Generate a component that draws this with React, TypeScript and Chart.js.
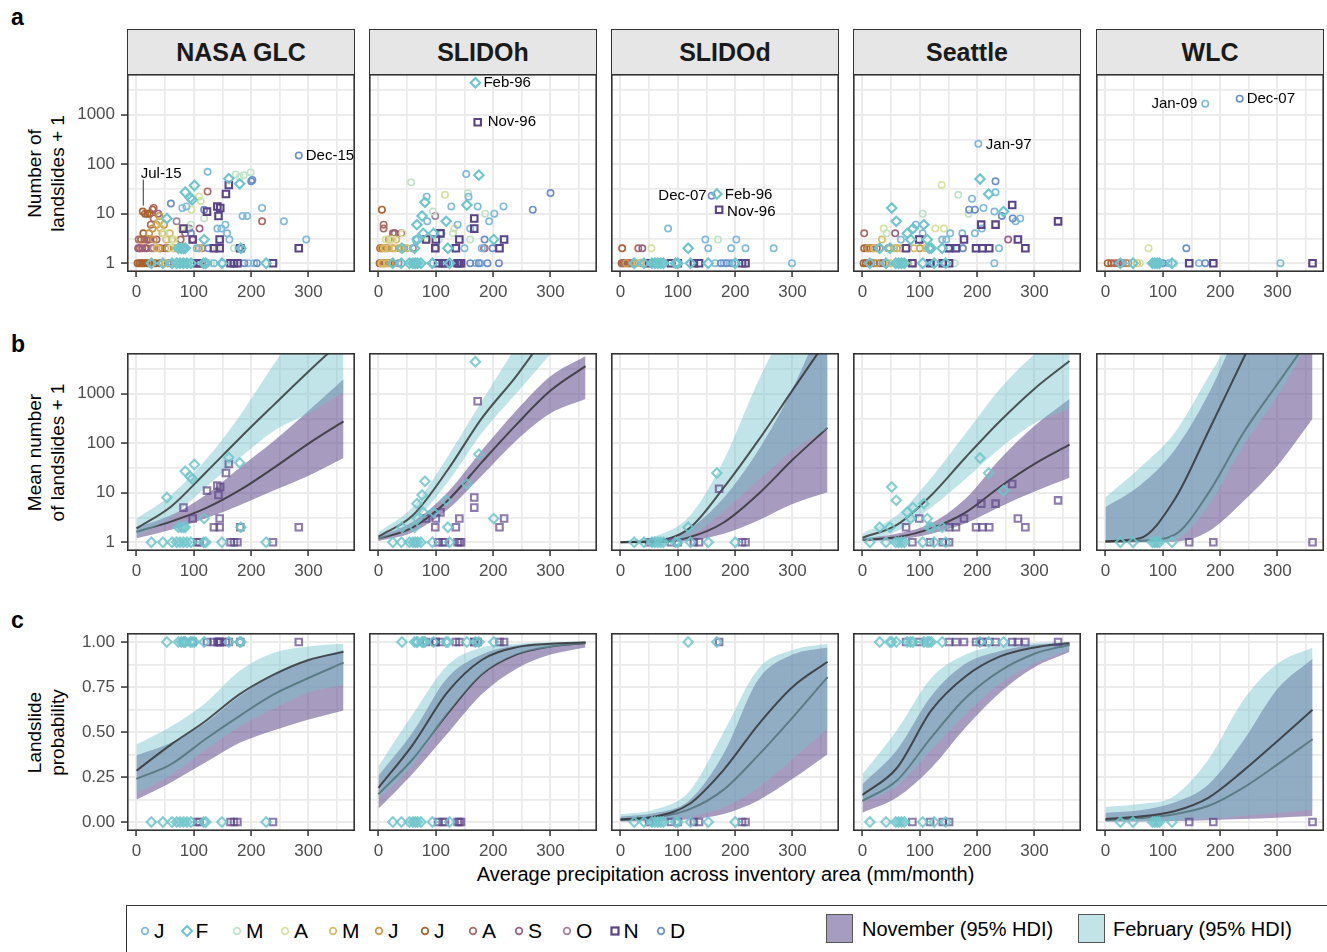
import React, { useEffect, useRef } from 'react';
import { Chart, registerables } from 'chart.js';

Chart.register(...registerables);

type Pt = [number, number];

const FONT = "'Liberation Sans', Arial, Helvetica, sans-serif";

// ---------- categories / labels ----------
const DATASET_NAMES = ['NASA GLC', 'SLIDOh', 'SLIDOd', 'Seattle', 'WLC'];
const MONTH_LABELS = ['J', 'F', 'M', 'A', 'M', 'J', 'J', 'A', 'S', 'O', 'N', 'D'];
const MONTH_COLORS = ['#7FBADB', '#6EC5CB', '#BFE3C9', '#D8E19F', '#D5BC6A', '#C99845', '#A9612F', '#AB6A64', '#9D5F84', '#A6809F', '#5B4388', '#6B8ECB'];
const ROW_TITLES = [['Number of', 'landslides + 1'], ['Mean number', 'of landslides + 1'], ['Landslide', 'probability']];
const X_TITLE = 'Average precipitation across inventory area (mm/month)';
const RIBBON_LABELS = ['November (95% HDI)', 'February (95% HDI)'];

// ---------- axis ticks ----------
const X_TICKS = [0, 50, 100, 150, 200, 250, 300, 350];
const X_MAJOR = [0, 100, 200, 300];
const LOG_TICKS = [1, 3.1623, 10, 31.623, 100, 316.23, 1000, 3162.3];
const LOG_MAJOR = [1, 10, 100, 1000];
const PROB_TICKS = [0, 0.125, 0.25, 0.375, 0.5, 0.625, 0.75, 0.875, 1];
const PROB_MAJOR = [0, 0.25, 0.5, 0.75, 1];

// ---------- observed points: [precip, landslides + 1], one list per month ----------
const NASA_POINTS: Pt[][] = [
  [[124, 70], [80, 13], [87, 14], [141, 5], [148, 5], [158, 4], [155, 6], [162, 3], [185, 9], [193, 9], [219, 13], [257, 7], [296, 3], [120, 1], [135, 1], [150, 1], [168, 1], [195, 1], [205, 1], [178, 2], [184, 2], [105, 2]],
  [[26, 1], [46, 1], [62, 1], [70, 1], [76, 1], [82, 1], [88, 1], [95, 1], [117, 1], [121, 1], [149, 1], [226, 1], [73, 2], [78, 2], [82, 2], [85, 2], [182, 2], [118, 3], [53, 8], [97, 19], [94, 21], [85, 27], [101, 37], [161, 51], [180, 40]],
  [[173, 62], [187, 60], [199, 68], [180, 55], [118, 8], [95, 6], [75, 2], [130, 1], [72, 1], [170, 2]],
  [[109, 22], [112, 18], [96, 12], [65, 3], [60, 2], [78, 5], [90, 1], [100, 1], [140, 2], [48, 4]],
  [[42, 5], [40, 7], [45, 4], [58, 4], [52, 3], [62, 3], [35, 2], [50, 1], [60, 1], [110, 2], [95, 1], [68, 2]],
  [[40, 9], [35, 6], [48, 6], [28, 5], [30, 3], [40, 2], [25, 1], [45, 1], [70, 1], [55, 2], [22, 4]],
  [[11, 11], [15, 10], [19, 10], [23, 10], [28, 12], [8, 3], [14, 3], [20, 3], [5, 2], [10, 2], [18, 2], [2, 1], [5, 1], [8, 1], [11, 1], [14, 1], [18, 1], [22, 1], [27, 1], [33, 1], [40, 1], [12, 4]],
  [[124, 28], [219, 7], [109, 2], [77, 3], [30, 13], [25, 6], [18, 3], [27, 2], [40, 2], [55, 2], [45, 1], [60, 1], [100, 1], [110, 1], [4, 3], [6, 2], [30, 8]],
  [[110, 5], [98, 3], [85, 4], [35, 3], [42, 2], [50, 2], [22, 3], [55, 1], [80, 1], [15, 2], [3, 2], [38, 10]],
  [[92, 5], [115, 2], [65, 2], [30, 2], [105, 1], [125, 1], [70, 7]],
  [[106, 1], [110, 1], [164, 1], [170, 1], [176, 1], [238, 1], [135, 2], [145, 2], [181, 2], [283, 2], [98, 3], [145, 3], [82, 5], [143, 9], [123, 11], [141, 14], [146, 13], [156, 25], [161, 38]],
  [[283, 150], [202, 48], [200, 45], [118, 12], [95, 4], [125, 2], [210, 1], [188, 1], [60, 16]],
];

const SLIDOH_POINTS: Pt[][] = [
  [[153, 63], [84, 22], [127, 14], [157, 22], [218, 14], [173, 14], [202, 10], [193, 7], [138, 6], [160, 5], [85, 7], [110, 4], [100, 2], [150, 2], [180, 2], [95, 1], [170, 1], [178, 1], [65, 3]],
  [[169, 4400], [175, 60], [154, 15], [118, 7], [81, 17], [76, 9], [67, 6], [96, 4], [68, 3], [78, 4], [201, 3], [41, 2], [63, 2], [121, 2], [25, 1], [40, 1], [54, 1], [60, 1], [64, 1], [68, 1], [74, 1], [94, 1], [124, 1]],
  [[57, 43], [156, 26], [186, 10], [95, 11], [130, 4], [105, 3], [160, 3]],
  [[116, 24], [13, 3], [42, 4], [132, 5], [85, 3], [25, 3]],
  [[10, 2], [18, 2], [28, 2], [31, 3], [22, 3], [40, 2], [5, 1], [15, 1], [50, 2]],
  [[5, 2], [12, 2], [25, 2], [36, 2], [18, 3], [8, 1], [20, 1], [45, 2]],
  [[6, 12], [2, 1], [5, 1], [9, 1], [13, 1], [17, 1], [3, 2], [7, 2], [28, 4]],
  [[9, 6], [9, 5], [4, 1], [11, 1], [185, 2], [25, 4]],
  [[28, 4], [15, 2], [22, 1], [40, 4]],
  [[99, 9], [184, 2], [60, 2], [35, 1]],
  [[173, 700], [167, 8], [167, 5], [141, 3], [219, 3], [211, 2], [135, 2], [99, 2], [108, 4], [83, 3], [100, 3], [112, 1], [116, 1], [138, 1], [141, 1], [144, 1], [104, 1]],
  [[300, 26], [269, 12], [185, 3], [199, 2], [120, 1], [135, 1], [160, 1], [175, 1], [190, 1], [210, 1]],
];

const SLIDOD_POINTS: Pt[][] = [
  [[83, 5], [153, 2], [193, 2], [218, 2], [267, 2], [299, 1], [148, 3], [202, 3], [165, 1], [180, 1], [190, 1]],
  [[168, 25], [118, 2], [24, 1], [41, 1], [55, 1], [60, 1], [65, 1], [70, 1], [75, 1], [96, 1], [100, 1], [122, 1], [153, 1], [200, 1]],
  [[170, 3]],
  [[54, 2]],
  [[30, 1], [45, 1]],
  [[10, 1], [25, 1]],
  [[3, 2], [2, 1], [5, 1], [8, 1], [12, 1], [16, 1]],
  [[31, 2], [4, 1], [20, 1]],
  [[38, 2], [14, 1]],
  [[35, 1]],
  [[172, 12], [218, 1], [212, 1], [137, 1], [128, 1], [100, 1], [88, 1], [50, 1]],
  [[159, 23], [175, 1], [185, 1], [195, 1]],
];

const SEATTLE_POINTS: Pt[][] = [
  [[202, 257], [232, 27], [191, 20], [211, 13], [267, 7], [275, 8], [230, 11], [153, 4], [174, 4], [196, 4], [208, 5], [67, 3], [93, 6], [105, 4], [139, 3], [146, 3], [238, 2], [230, 1], [165, 2]],
  [[205, 50], [220, 25], [246, 11], [51, 13], [59, 7], [88, 5], [107, 6], [78, 4], [84, 3], [113, 3], [30, 2], [48, 2], [116, 2], [120, 2], [139, 2], [13, 1], [41, 1], [58, 1], [63, 1], [68, 1], [73, 1], [105, 1], [125, 1], [145, 1]],
  [[167, 24], [185, 10], [105, 10], [42, 4], [175, 2], [161, 1], [152, 2]],
  [[138, 38], [37, 5], [142, 5], [127, 5]],
  [[34, 3], [20, 2], [55, 2], [65, 2], [90, 2], [110, 2], [48, 1], [80, 1]],
  [[10, 2], [30, 2], [45, 2], [60, 2], [100, 2], [25, 1], [40, 1], [70, 1]],
  [[3, 2], [8, 2], [14, 2], [2, 1], [6, 1], [10, 1], [15, 1], [20, 1]],
  [[3, 4], [18, 2], [12, 1], [30, 1]],
  [[57, 4], [254, 3], [25, 2], [35, 1]],
  [[45, 2], [88, 1]],
  [[261, 15], [207, 6], [232, 6], [341, 7], [271, 3], [284, 2], [177, 3], [99, 3], [76, 2], [198, 2], [209, 2], [221, 2], [151, 2], [163, 2], [87, 1], [118, 1], [140, 1], [151, 1]],
  [[232, 45], [186, 12], [196, 12], [243, 9], [262, 8], [150, 2], [175, 2], [120, 1], [140, 1]],
];

const WLC_POINTS: Pt[][] = [
  [[174, 1660], [163, 1], [305, 1], [110, 1]],
  [[26, 1], [48, 1], [82, 1], [86, 1], [90, 1], [94, 1], [116, 1]],
  [[120, 1]],
  [[75, 2], [60, 1]],
  [[55, 1]],
  [[40, 1]],
  [[4, 1], [10, 1]],
  [[16, 1], [22, 1]],
  [[30, 1]],
  [[36, 1]],
  [[146, 1], [188, 1], [361, 1]],
  [[234, 2100], [141, 2], [174, 1], [100, 1]],
];

const POINTS = [NASA_POINTS, SLIDOH_POINTS, SLIDOD_POINTS, SEATTLE_POINTS, WLC_POINTS];

// ---------- model curves (x grid, then mean / lower / upper per month) ----------
const X_GRID = [0, 60, 120, 180, 240, 300, 361];

type Curves = { novMid: number[]; novLo: number[]; novHi: number[]; febMid: number[]; febLo: number[]; febHi: number[] };

// row b: mean number of landslides + 1
const NASA_MEAN: Curves = {
  febMid: [1.9, 5.2, 25, 126, 600, 2800, 12600],
  febLo: [1.32, 3.2, 12.6, 50, 178, 400, 1050],
  febHi: [3.0, 8.9, 45, 355, 4000, 40000, 316000],
  novMid: [1.62, 2.6, 4.8, 11.2, 32, 98, 275],
  novLo: [1.2, 1.78, 3.0, 5.6, 11.2, 22, 50],
  novHi: [2.0, 3.5, 8.9, 32, 112, 450, 1950],
};
const SLIDOH_MEAN: Curves = {
  febMid: [1.29, 3.5, 28, 316, 2240, 20000, 158000],
  febLo: [1.1, 2.5, 15.8, 158, 1000, 6300, 40000],
  febHi: [1.58, 5.2, 52, 700, 8900, 100000, 1000000],
  novMid: [1.17, 2.0, 6.8, 41, 234, 1150, 3600],
  novLo: [1.05, 1.58, 4.5, 22, 112, 400, 775],
  novHi: [1.32, 2.6, 10, 71, 450, 2240, 5750],
};
const SLIDOD_MEAN: Curves = {
  febMid: [1.0, 1.07, 1.9, 12.6, 112, 1175, 12600],
  febLo: [1.0, 1.0, 1.32, 4.2, 17.8, 71, 195],
  febHi: [1.05, 1.32, 3.3, 45, 1780, 40000, 630000],
  novMid: [1.0, 1.0, 1.26, 2.5, 9.3, 46, 204],
  novLo: [1.0, 1.0, 1.07, 1.48, 2.75, 5.9, 10.2],
  novHi: [1.0, 1.07, 1.86, 7.9, 71, 1260, 50000],
};
const SEATTLE_MEAN: Curves = {
  febMid: [1.23, 2.24, 8.9, 52, 280, 1260, 4570],
  febLo: [1.07, 1.66, 5.0, 19, 79, 251, 490],
  febHi: [1.48, 3.5, 20, 158, 1260, 6300, 25000],
  novMid: [1.12, 1.26, 1.9, 4.0, 13.2, 38, 93],
  novLo: [1.05, 1.12, 1.48, 2.4, 5.2, 10.5, 20],
  novHi: [1.2, 1.48, 2.4, 7.6, 48, 224, 775],
};
const WLC_MEAN: Curves = {
  febMid: [1.05, 1.2, 7.1, 178, 5000, 126000, 3200000],
  febLo: [1.0, 1.0, 1.12, 5.6, 89, 890, 15800],
  febHi: [8.1, 32, 158, 2240, 31600, 316000, 3200000],
  novMid: [1.02, 1.07, 1.41, 10, 158, 1580, 15800],
  novLo: [1.0, 1.0, 1.02, 1.66, 6.6, 35, 309],
  novHi: [5.1, 14, 71, 1000, 31600, 400000, 4000000],
};

// row c: landslide probability
const NASA_PROB: Curves = {
  febMid: [0.285, 0.43, 0.56, 0.71, 0.82, 0.9, 0.945],
  febLo: [0.16, 0.26, 0.4, 0.53, 0.63, 0.72, 0.76],
  febHi: [0.43, 0.53, 0.66, 0.84, 0.94, 0.975, 0.99],
  novMid: [0.24, 0.32, 0.46, 0.59, 0.71, 0.8, 0.885],
  novLo: [0.125, 0.22, 0.33, 0.44, 0.51, 0.57, 0.62],
  novHi: [0.37, 0.44, 0.55, 0.7, 0.82, 0.9, 0.955],
};
const SLIDOH_PROB: Curves = {
  febMid: [0.19, 0.43, 0.72, 0.9, 0.97, 0.99, 0.998],
  febLo: [0.126, 0.32, 0.6, 0.82, 0.93, 0.97, 0.99],
  febHi: [0.31, 0.6, 0.87, 0.97, 0.99, 0.998, 1.0],
  novMid: [0.155, 0.35, 0.6, 0.82, 0.93, 0.975, 0.995],
  novLo: [0.074, 0.27, 0.49, 0.71, 0.85, 0.93, 0.97],
  novHi: [0.257, 0.5, 0.8, 0.93, 0.98, 0.995, 0.999],
};
const SLIDOD_PROB: Curves = {
  febMid: [0.015, 0.03, 0.1, 0.29, 0.54, 0.75, 0.89],
  febLo: [0.005, 0.012, 0.03, 0.08, 0.19, 0.35, 0.517],
  febHi: [0.043, 0.07, 0.17, 0.5, 0.85, 0.955, 0.99],
  novMid: [0.011, 0.025, 0.07, 0.18, 0.37, 0.58, 0.805],
  novLo: [0.003, 0.006, 0.015, 0.045, 0.12, 0.24, 0.377],
  novHi: [0.03, 0.05, 0.12, 0.38, 0.79, 0.93, 0.97],
};
const SEATTLE_PROB: Curves = {
  febMid: [0.15, 0.3, 0.62, 0.81, 0.92, 0.97, 0.995],
  febLo: [0.108, 0.2, 0.4, 0.6, 0.77, 0.88, 0.957],
  febHi: [0.266, 0.51, 0.8, 0.93, 0.98, 0.995, 1.0],
  novMid: [0.117, 0.23, 0.47, 0.69, 0.84, 0.935, 0.985],
  novLo: [0.052, 0.136, 0.3, 0.526, 0.72, 0.86, 0.944],
  novHi: [0.21, 0.4, 0.7, 0.88, 0.95, 0.985, 0.995],
};
const WLC_PROB: Curves = {
  febMid: [0.017, 0.03, 0.06, 0.136, 0.284, 0.45, 0.623],
  febLo: [0.003, 0.005, 0.01, 0.02, 0.035, 0.05, 0.07],
  febHi: [0.084, 0.1, 0.145, 0.35, 0.675, 0.88, 0.97],
  novMid: [0.011, 0.022, 0.043, 0.09, 0.19, 0.32, 0.46],
  novLo: [0.002, 0.003, 0.006, 0.01, 0.016, 0.024, 0.033],
  novHi: [0.052, 0.065, 0.108, 0.21, 0.45, 0.74, 0.907],
};

const MEAN_CURVES = [NASA_MEAN, SLIDOH_MEAN, SLIDOD_MEAN, SEATTLE_MEAN, WLC_MEAN];
const PROB_CURVES = [NASA_PROB, SLIDOH_PROB, SLIDOD_PROB, SEATTLE_PROB, WLC_PROB];

// ---------- labelled events (row a) ----------
type Ann = { x: number; y: number; text: string; dx: number; dy: number; align?: 'left' | 'right'; leader?: [number, number] };
const ANNOTATIONS: Ann[][] = [
  [
    { x: 283, y: 150, text: 'Dec-15', dx: 7, dy: 0 },
    { x: 11, y: 11, text: 'Jul-15', dx: -2, dy: -38, leader: [-32, -6] },
  ],
  [
    { x: 169, y: 4400, text: 'Feb-96', dx: 8, dy: 0 },
    { x: 173, y: 700, text: 'Nov-96', dx: 10, dy: 0 },
  ],
  [
    { x: 159, y: 23, text: 'Dec-07', dx: -5, dy: 0, align: 'right' },
    { x: 168, y: 25, text: 'Feb-96', dx: 8, dy: 1 },
    { x: 172, y: 12, text: 'Nov-96', dx: 8, dy: 2 },
  ],
  [{ x: 202, y: 257, text: 'Jan-97', dx: 7.5, dy: 1.5 }],
  [
    { x: 174, y: 1660, text: 'Jan-09', dx: -8, dy: 0, align: 'right' },
    { x: 234, y: 2100, text: 'Dec-07', dx: 7, dy: 0 },
  ],
];

// ---------- layout & style ----------
const COL_LEFTS = [127, 369, 611, 853, 1096];
const ROW_TOPS = [74, 353, 633];
const PANEL_W = 228;
const PANEL_H = 198;
const Y_AXIS_W = 58;
const X_AXIS_H = 30;
const X_MIN = -16.5;
const X_MAX = 381;
const LOG_MIN = 0.664;
const LOG_MAX = 6607;
const GRID = '#EBEBEB';
const AXIS = '#333333';
const TICK_TXT = '#4D4D4D';
const NOV_FILL = 'rgba(94,75,139,0.55)';
const FEB_FILL = 'rgba(118,196,203,0.45)';
const LINE_COL = 'rgba(45,45,45,0.8)';
const DRAW_ORDER_A = [6, 7, 8, 9, 5, 4, 3, 2, 0, 11, 10, 1];

function rgba(hex: string, a: number) {
  const n = parseInt(hex.slice(1), 16);
  return `rgba(${(n >> 16) & 255},${(n >> 8) & 255},${n & 255},${a})`;
}

const boxPlugin = {
  id: 'panelBox',
  afterDraw(chart: any) {
    const { ctx, chartArea: a } = chart;
    ctx.save();
    ctx.strokeStyle = AXIS;
    ctx.lineWidth = 1.6;
    ctx.strokeRect(a.left + 0.8, a.top + 0.8, a.right - a.left - 1.6, a.bottom - a.top - 1.6);
    ctx.restore();
  },
};

function annotPlugin(items: Ann[]) {
  return {
    id: 'eventLabels',
    afterDatasetsDraw(chart: any) {
      const { ctx } = chart;
      const xs = chart.scales.x;
      const ys = chart.scales.y;
      ctx.save();
      ctx.font = `15px ${FONT}`;
      ctx.fillStyle = '#000';
      ctx.strokeStyle = '#333';
      ctx.textBaseline = 'middle';
      items.forEach((it) => {
        const px = xs.getPixelForValue(it.x);
        const py = ys.getPixelForValue(it.y);
        ctx.textAlign = it.align === 'right' ? 'right' : 'left';
        ctx.fillText(it.text, px + it.dx, py + it.dy);
        if (it.leader) {
          ctx.lineWidth = 1;
          ctx.beginPath();
          ctx.moveTo(px + 0.5, py + it.leader[0]);
          ctx.lineTo(px + 0.5, py + it.leader[1]);
          ctx.stroke();
        }
      });
      ctx.restore();
    },
  };
}

function buildConfig(row: number, col: number): any {
  const datasets: any[] = [];
  const pts = POINTS[col];
  const addPoints = (m: number, alpha: number, mapY: (v: number) => number) => {
    const c = rgba(MONTH_COLORS[m], alpha);
    const big = m === 1 || m === 10;
    datasets.push({
      data: pts[m].map(([x, v]) => ({ x, y: mapY(v) })),
      showLine: false,
      pointStyle: m === 1 ? 'rectRot' : m === 10 ? 'rect' : 'circle',
      pointRadius: m === 1 ? 4.7 : m === 10 ? 4.6 : 3.2,
      pointBorderWidth: big ? 2.1 : 1.6,
      pointBorderColor: c,
      pointBackgroundColor: 'rgba(0,0,0,0)',
      borderColor: 'rgba(0,0,0,0)',
      backgroundColor: 'rgba(0,0,0,0)',
      fill: false,
    });
  };
  const addCurve = (vals: number[], opts: any) =>
    datasets.push({
      data: X_GRID.map((x, i) => ({ x, y: vals[i] })),
      pointRadius: 0,
      cubicInterpolationMode: 'monotone',
      ...opts,
    });
  const hidden = { borderColor: 'rgba(0,0,0,0)', borderWidth: 0 };

  if (row === 0) {
    DRAW_ORDER_A.forEach((m) => addPoints(m, 1, (v) => v));
  } else {
    const cv = row === 1 ? MEAN_CURVES[col] : PROB_CURVES[col];
    addCurve(cv.novLo, { ...hidden, fill: false });
    addCurve(cv.novHi, { ...hidden, fill: '-1', backgroundColor: NOV_FILL });
    addCurve(cv.novMid, { borderColor: LINE_COL, borderWidth: 2, fill: false });
    addCurve(cv.febLo, { ...hidden, fill: false });
    addCurve(cv.febHi, { ...hidden, fill: '-1', backgroundColor: FEB_FILL });
    addCurve(cv.febMid, { borderColor: LINE_COL, borderWidth: 2, fill: false });
    const mapY = row === 1 ? (v: number) => v : (v: number) => (v > 1 ? 1 : 0);
    addPoints(10, 0.7, mapY);
    addPoints(1, 0.85, mapY);
  }
  const n = datasets.length;
  datasets.forEach((d, i) => (d.order = n - i));

  const isProb = row === 2;
  const yTicks = isProb ? PROB_TICKS : LOG_TICKS;
  const yMajor = isProb ? PROB_MAJOR : LOG_MAJOR;
  const showY = col === 0;
  const tickFont = { family: FONT, size: 17 };
  const gridWidth = (major: number[]) => (c: any) => (c.tick && major.includes(c.tick.value) ? 2.1 : 1.7);
  const tickCol = (major: number[]) => (c: any) => (c.tick && major.includes(c.tick.value) ? AXIS : 'rgba(0,0,0,0)');

  return {
    type: 'line',
    data: { datasets },
    options: {
      animation: false,
      responsive: false,
      devicePixelRatio: 1,
      events: [],
      layout: { padding: 0, autoPadding: false },
      plugins: { legend: { display: false }, tooltip: { enabled: false } },
      scales: {
        x: {
          type: 'linear',
          min: X_MIN,
          max: X_MAX,
          afterBuildTicks: (s: any) => {
            s.ticks = X_TICKS.map((v) => ({ value: v }));
          },
          afterFit: (s: any) => {
            s.height = X_AXIS_H;
            s.paddingLeft = 0;
            s.paddingRight = 0;
            s.paddingTop = 0;
            s.paddingBottom = 0;
          },
          border: { display: false },
          grid: { color: GRID, lineWidth: gridWidth(X_MAJOR), tickLength: 5, tickColor: tickCol(X_MAJOR), tickWidth: 1.5 },
          ticks: {
            autoSkip: false,
            maxRotation: 0,
            padding: 5,
            color: TICK_TXT,
            font: tickFont,
            callback: (v: number) => (X_MAJOR.includes(v) ? String(v) : ''),
          },
        },
        y: {
          type: isProb ? 'linear' : 'logarithmic',
          min: isProb ? -0.05 : LOG_MIN,
          max: isProb ? 1.05 : LOG_MAX,
          afterBuildTicks: (s: any) => {
            s.ticks = yTicks.map((v) => ({ value: v }));
          },
          afterFit: (s: any) => {
            s.width = showY ? Y_AXIS_W : 0;
            s.paddingTop = 0;
            s.paddingBottom = 0;
            s.paddingLeft = 0;
            s.paddingRight = 0;
          },
          border: { display: false },
          grid: {
            color: GRID,
            lineWidth: gridWidth(yMajor),
            drawTicks: showY,
            tickLength: 6,
            tickColor: tickCol(yMajor),
            tickWidth: 1.5,
          },
          ticks: {
            display: showY,
            autoSkip: false,
            padding: 6,
            color: TICK_TXT,
            font: tickFont,
            callback: (v: number) => (yMajor.includes(v) ? (isProb ? v.toFixed(2) : String(v)) : ''),
          },
        },
      },
    },
    plugins: row === 0 ? [boxPlugin, annotPlugin(ANNOTATIONS[col])] : [boxPlugin],
  };
}

function Panel({ row, col }: { row: number; col: number }) {
  const ref = useRef<HTMLCanvasElement>(null);
  const yW = col === 0 ? Y_AXIS_W : 0;
  const w = PANEL_W + yW;
  const h = PANEL_H + X_AXIS_H;
  useEffect(() => {
    const chart = new Chart(ref.current as HTMLCanvasElement, buildConfig(row, col));
    return () => chart.destroy();
  }, [row, col]);
  return (
    <canvas
      ref={ref}
      width={w}
      height={h}
      style={{ position: 'absolute', left: COL_LEFTS[col] - yW, top: ROW_TOPS[row], width: w, height: h }}
    />
  );
}

function LegendMarker({ m, cx, cy }: { m: number; cx: number; cy: number }) {
  const c = MONTH_COLORS[m];
  let shape: React.ReactNode;
  if (m === 1) shape = <polygon points="10,5 15,10 10,15 5,10" fill="none" stroke={c} strokeWidth={2} />;
  else if (m === 10) shape = <rect x={6.5} y={6.5} width={7} height={7} fill="none" stroke={c} strokeWidth={2.2} />;
  else shape = <circle cx={10} cy={10} r={3.3} fill="none" stroke={c} strokeWidth={1.7} />;
  return (
    <svg width={20} height={20} style={{ position: 'absolute', left: cx - 10, top: cy - 10 }}>
      {shape}
    </svg>
  );
}

const LEGEND_X = [145, 186.5, 237, 285, 333, 379, 425, 473, 519, 567, 614.5, 661];

export default function App() {
  const rowMid = ROW_TOPS.map((t) => t + PANEL_H / 2);
  return (
    <div
      style={{
        position: 'absolute',
        left: 0,
        top: 0,
        width: 1327,
        height: 952,
        overflow: 'hidden',
        background: '#fff',
        fontFamily: FONT,
        color: '#000',
      }}
    >
      {['a', 'b', 'c'].map((l, i) => (
        <div
          key={l}
          style={{ position: 'absolute', left: 11, top: [4, 331, 607][i], fontSize: 23, fontWeight: 'bold', lineHeight: '26px' }}
        >
          {l}
        </div>
      ))}

      {DATASET_NAMES.map((name, c) => (
        <div
          key={name}
          style={{
            position: 'absolute',
            left: COL_LEFTS[c],
            top: 29,
            width: PANEL_W,
            height: 46,
            boxSizing: 'border-box',
            border: `1.6px solid ${AXIS}`,
            background: '#E6E6E6',
            display: 'flex',
            alignItems: 'center',
            justifyContent: 'center',
            fontSize: 25,
            fontWeight: 'bold',
            color: '#1A1A1A',
          }}
        >
          {name}
        </div>
      ))}

      {ROW_TITLES.map((lines, r) => (
        <div
          key={r}
          style={{
            position: 'absolute',
            left: 46 - 120,
            top: rowMid[r] - 22.5,
            width: 240,
            height: 45,
            transform: 'rotate(-90deg)',
            transformOrigin: 'center center',
            textAlign: 'center',
            fontSize: 19,
            lineHeight: '22.5px',
          }}
        >
          {lines[0]}
          <br />
          {lines[1]}
        </div>
      ))}

      {[0, 1, 2].map((r) => [0, 1, 2, 3, 4].map((c) => <Panel key={`${r}-${c}`} row={r} col={c} />))}

      <div
        style={{
          position: 'absolute',
          left: 0,
          width: 1451,
          top: 862,
          textAlign: 'center',
          fontSize: 20,
          lineHeight: '24px',
        }}
      >
        {X_TITLE}
      </div>

      <div
        style={{
          position: 'absolute',
          left: 126,
          top: 905,
          width: 1300,
          height: 80,
          borderTop: '1.2px solid #333',
          borderLeft: '1.2px solid #333',
        }}
      />
      {MONTH_LABELS.map((l, m) => (
        <React.Fragment key={m}>
          <LegendMarker m={m} cx={LEGEND_X[m]} cy={931} />
          <div style={{ position: 'absolute', left: LEGEND_X[m] + 9, top: 918, fontSize: 21, lineHeight: '26px' }}>{l}</div>
        </React.Fragment>
      ))}
      {RIBBON_LABELS.map((label, i) => (
        <React.Fragment key={label}>
          <div
            style={{
              position: 'absolute',
              left: [826, 1078][i],
              top: 914,
              width: 27,
              height: 29,
              boxSizing: 'border-box',
              border: '1px solid #555',
              background: ['#A69CBF', '#C1E4E8'][i],
            }}
          />
          <div style={{ position: 'absolute', left: [862, 1113][i], top: 917, fontSize: 20, lineHeight: '24px' }}>{label}</div>
        </React.Fragment>
      ))}
    </div>
  );
}
